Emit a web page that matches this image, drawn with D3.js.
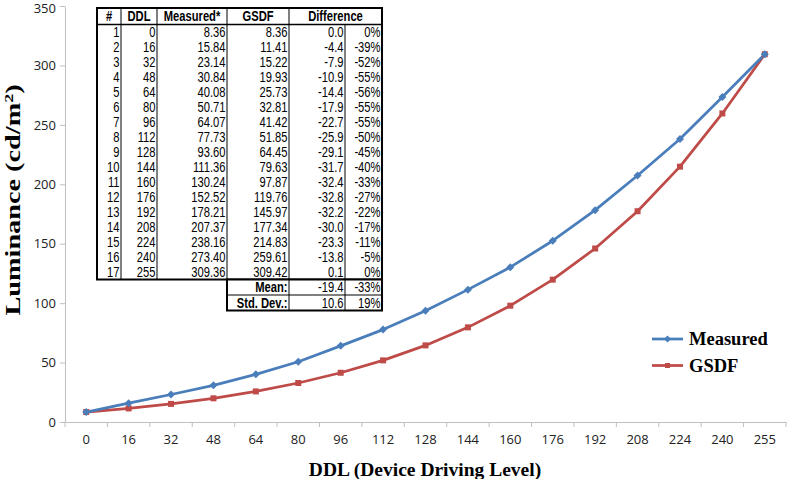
<!DOCTYPE html>
<html><head><meta charset="utf-8">
<script src="https://cdn.jsdelivr.net/npm/d3@7/dist/d3.min.js"></script>
<style>body{margin:0;background:#fff}svg{display:block}</style>
</head><body><svg id="c" width="787" height="479"></svg>
<script>
const ddl = [0,16,32,48,64,80,96,112,128,144,160,176,192,208,224,240,255];
const measured = [8.36,15.84,23.14,30.84,40.08,50.71,64.07,77.73,93.60,111.36,130.24,152.52,178.21,207.37,238.16,273.40,309.36];
const gsdf = [8.36,11.41,15.22,19.93,25.73,32.81,41.42,51.85,64.45,79.63,97.87,119.76,145.97,177.34,214.83,259.61,309.42];
const diffAbs = ["0.0","-4.4","-7.9","-10.9","-14.4","-17.9","-22.7","-25.9","-29.1","-31.7","-32.4","-32.8","-32.2","-30.0","-23.3","-13.8","0.1"];
const diffPct = ["0%","-39%","-52%","-55%","-56%","-55%","-55%","-50%","-45%","-40%","-33%","-27%","-22%","-17%","-11%","-5%","0%"];
const measuredTxt = ["8.36","15.84","23.14","30.84","40.08","50.71","64.07","77.73","93.60","111.36","130.24","152.52","178.21","207.37","238.16","273.40","309.36"];
const gsdfTxt = ["8.36","11.41","15.22","19.93","25.73","32.81","41.42","51.85","64.45","79.63","97.87","119.76","145.97","177.34","214.83","259.61","309.42"];
const headers = ["#","DDL","Measured*","GSDF","Difference"];
const statLabels = ["Mean:","Std. Dev.:"];
const statAbs = ["-19.4","10.6"];
const statPct = ["-33%","19%"];
const yTicks = [0,50,100,150,200,250,300,350];

(function(){
const svg = d3.select("#c");
const x = d3.scaleBand().domain(ddl.map(String)).range([65,786]).padding(0);
const y = d3.scaleLinear().domain([0,350]).range([422,6]);
const cx = d => x(String(d)) + x.bandwidth()/2;

// axes
const axisColor = "#bfbfbf";
const gy = svg.append("g").attr("transform","translate(65,0)").call(d3.axisLeft(y).tickValues(yTicks).tickSize(5).tickSizeOuter(0));
gy.select(".domain").attr("stroke",axisColor);
gy.selectAll(".tick line").attr("stroke",axisColor);
gy.selectAll(".tick text").attr("font-family","'Open Sans',sans-serif").attr("font-size","13px").attr("fill","#222").attr("dx","-1")
  .attr("dy", d => d === 350 ? "0.5em" : "0.32em");

const gx = svg.append("g").attr("transform","translate(0,422)").call(d3.axisBottom(x).tickSize(0).tickSizeOuter(0));
gx.select(".domain").attr("stroke",axisColor);
gx.selectAll(".tick text").attr("font-family","'Open Sans',sans-serif").attr("font-size","13px").attr("fill","#222").attr("dy","1.45em");
svg.append("g").selectAll("line").data(ddl.concat(["end"])).join("line")
  .attr("x1",(d,i)=> i<ddl.length ? x(String(d)) : 786).attr("x2",(d,i)=> i<ddl.length ? x(String(d)) : 786)
  .attr("y1",422).attr("y2",427).attr("stroke",axisColor);

// axis titles
svg.append("text").attr("transform","translate(19.5,200) rotate(-90) scale(1.38,1)").attr("text-anchor","middle")
  .attr("font-family","'Liberation Serif','Times New Roman',serif").attr("font-weight","bold").attr("font-size","20.5px")
  .html('Luminance (cd/m<tspan dy="-6.5" font-size="13px">2</tspan><tspan dy="6.5">)</tspan>');
svg.append("text").attr("x",425).attr("y",476).attr("text-anchor","middle")
  .attr("font-family","'Liberation Serif','Times New Roman',serif").attr("font-weight","bold").attr("font-size","19.5px")
  .text("DDL (Device Driving Level)");

// series
const blue = "#4a7ebb", red = "#be4b48";
const line = d3.line().x((d,i)=>cx(ddl[i])).y(d=>y(d));
svg.append("path").datum(gsdf).attr("d",line).attr("fill","none").attr("stroke",red).attr("stroke-width",2.75).attr("stroke-linejoin","round");
svg.append("path").datum(measured).attr("d",line).attr("fill","none").attr("stroke",blue).attr("stroke-width",2.75).attr("stroke-linejoin","round");
svg.append("g").selectAll("rect").data(gsdf).join("rect")
  .attr("x",(d,i)=>cx(ddl[i])-3).attr("y",d=>y(d)-3).attr("width",6).attr("height",6).attr("fill",red);
svg.append("g").selectAll("path").data(measured).join("path")
  .attr("transform",(d,i)=>`translate(${cx(ddl[i])},${y(d)})`).attr("d","M0,-4L4,0L0,4L-4,0Z").attr("fill",blue);

// legend
const legend = [{n:"Measured",c:blue,m:"d"},{n:"GSDF",c:red,m:"s"}];
legend.forEach((l,i)=>{
  const ly = 339 + i*26.5;
  svg.append("line").attr("x1",652).attr("x2",683).attr("y1",ly).attr("y2",ly).attr("stroke",l.c).attr("stroke-width",2.75);
  if(l.m==="d") svg.append("path").attr("transform",`translate(667.5,${ly})`).attr("d","M0,-3.5L3.5,0L0,3.5L-3.5,0Z").attr("fill",l.c);
  else svg.append("rect").attr("x",665).attr("y",ly-2.5).attr("width",5).attr("height",5).attr("fill",l.c);
  svg.append("text").attr("x",689).attr("y",ly+6).attr("font-family","'Liberation Serif','Times New Roman',serif")
    .attr("font-weight","bold").attr("font-size","18.5px").text(l.n);
});

// table
const T = svg.append("g");
const colX = [97,121,157,227,289,345,382];
const tTop = 8, hdrH = 16.5, rowH = 15, sRowH = 15.5;
const bodyTop = tTop + hdrH, bodyBot = bodyTop + rowH*ddl.length;
const statBot = bodyBot + sRowH*2;
const tf = "'Liberation Sans',Arial,sans-serif";
const sx = 0.8;
function txt(xx, yy, s, anchor, bold){
  T.append("text").attr("transform",`translate(${xx},${yy}) scale(${sx},1)`).attr("text-anchor",anchor)
   .attr("font-family",tf).attr("font-size","14px").attr("font-weight",bold?"bold":"normal").text(s);
}
T.append("rect").attr("x",colX[0]).attr("y",tTop).attr("width",colX[6]-colX[0]).attr("height",bodyBot-tTop).attr("fill","#fff").attr("stroke","#000").attr("stroke-width",2);
T.append("rect").attr("x",colX[3]).attr("y",bodyBot).attr("width",colX[6]-colX[3]).attr("height",statBot-bodyBot).attr("fill","#fff").attr("stroke","#000").attr("stroke-width",2);
T.append("line").attr("x1",colX[0]).attr("x2",colX[6]).attr("y1",bodyTop).attr("y2",bodyTop).attr("stroke","#000").attr("stroke-width",1.3);
T.append("line").attr("x1",colX[3]).attr("x2",colX[6]).attr("y1",bodyBot+sRowH).attr("y2",bodyBot+sRowH).attr("stroke","#000").attr("stroke-width",1);
[1,2,3,4].forEach(k=>T.append("line").attr("x1",colX[k]).attr("x2",colX[k]).attr("y1",tTop).attr("y2",bodyBot).attr("stroke","#000"));
T.append("line").attr("x1",colX[5]).attr("x2",colX[5]).attr("y1",bodyTop).attr("y2",statBot).attr("stroke","#000");
T.append("line").attr("x1",colX[4]).attr("x2",colX[4]).attr("y1",bodyBot).attr("y2",statBot).attr("stroke","#000");
// headers
const hdrCenters = [(colX[0]+colX[1])/2,(colX[1]+colX[2])/2,(colX[2]+colX[3])/2,(colX[3]+colX[4])/2,(colX[4]+colX[6])/2];
headers.forEach((h,i)=>txt(hdrCenters[i], tTop+13, h, "middle", true));
// body
const cols = [ddl.map((d,i)=>String(i+1)), ddl.map(String), measuredTxt, gsdfTxt, diffAbs, diffPct];
cols.forEach((col,c)=>{
  col.forEach((d,i)=>txt(colX[c+1]-1.5, bodyTop + rowH*i + 12.5, d, "end", false));
});
statLabels.forEach((s,i)=>{
  const yy = bodyBot + sRowH*i + 12.8;
  txt(colX[4]-1.5, yy, s, "end", true);
  txt(colX[5]-1.5, yy, statAbs[i], "end", false);
  txt(colX[6]-1.5, yy, statPct[i], "end", false);
});
})();
</script></body></html>
